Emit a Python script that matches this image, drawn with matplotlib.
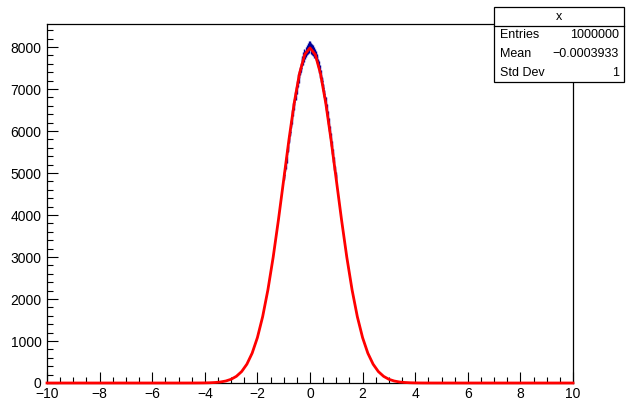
import numpy as np
import matplotlib
matplotlib.use("Agg")
import matplotlib.pyplot as plt
from matplotlib.ticker import MultipleLocator

# ---- data ----
hist_xmin, hist_xmax, n_bins = -10.0, 10.0, 1000
first_bin = 450          # index of first listed bin (x = -1.0)
bin_counts = [
    4912, 4951, 5120, 5163, 5301, 5322, 5498, 5571, 5610, 5789,
    5826, 5965, 5981, 6150, 6188, 6247, 6412, 6438, 6597, 6581,
    6690, 6835, 6811, 6972, 6958, 7103, 7121, 7265, 7230, 7351,
    7446, 7412, 7538, 7497, 7641, 7702, 7668, 7781, 7735, 7863,
    7810, 7902, 7851, 7968, 7905, 8012, 7921, 8051, 7943, 8038,
    8046, 7931, 8009, 7988, 7896, 7962, 7874, 7915, 7832, 7871,
    7777, 7808, 7702, 7739, 7611, 7632, 7590, 7461, 7484, 7352,
    7371, 7249, 7188, 7192, 7043, 7031, 6899, 6887, 6751, 6739,
    6593, 6571, 6428, 6402, 6255, 6236, 6089, 6047, 5901, 5866,
    5715, 5683, 5532, 5491, 5341, 5302, 5149, 5107, 4960, 4915,
]
fit_constant, fit_mean, fit_sigma = 7979.0, -0.0003933, 1.0
fit_npx = 100
stats_title = "x"
stats_rows = [("Entries", "1000000"), ("Mean", "\u22120.0003933"), ("Std Dev", "1")]

plt.rcParams['font.family'] = ['Liberation Sans', 'DejaVu Sans']

fig = plt.figure(figsize=(6.3, 4.04), dpi=100)
ax = fig.add_axes([47/630, 21/404, (573-47)/630, (383-24)/404])

bw = (hist_xmax - hist_xmin) / n_bins
counts = np.array(bin_counts, dtype=float)
idx = np.arange(first_bin, first_bin + len(counts))
centers = hist_xmin + (idx + 0.5) * bw
err = np.sqrt(counts)

hist_col = '#000099'
ax.vlines(centers, counts - err, counts + err, color=hist_col, lw=1.0, zorder=2)
ax.hlines(counts, centers - bw/2, centers + bw/2, color=hist_col, lw=1.0, zorder=2)

fx = np.linspace(hist_xmin, hist_xmax, fit_npx + 1)
fy = fit_constant * np.exp(-0.5 * ((fx - fit_mean) / fit_sigma) ** 2)
ax.plot(fx, fy, color='#ff0000', lw=2.0, zorder=3, clip_on=False)

ymax = 1.05 * np.max(counts + err)
ax.set_xlim(hist_xmin, hist_xmax)
ax.set_ylim(0, ymax)

ax.xaxis.set_major_locator(MultipleLocator(2))
ax.xaxis.set_minor_locator(MultipleLocator(0.5))
ax.yaxis.set_major_locator(MultipleLocator(1000))
ax.yaxis.set_minor_locator(MultipleLocator(200))
ax.tick_params(which='both', direction='in', top=False, right=False, labelsize=10, width=0.8)
ax.tick_params(which='major', length=8)
ax.tick_params(which='minor', length=4.3)
ax.tick_params(axis='x', pad=3)
ax.tick_params(axis='y', pad=4)
for s in ax.spines.values():
    s.set_linewidth(0.9)

# stats box (figure pixel coords)
W, H = 630, 404
bx0, bx1, by0, by1, bsep = 494, 624, 7, 82, 26
fig.patches.append(plt.Rectangle((bx0/W, 1 - by1/H), (bx1-bx0)/W, (by1-by0)/H,
                                 transform=fig.transFigure, facecolor='white',
                                 edgecolor='black', lw=0.9, zorder=10))
fig.add_artist(plt.Line2D([bx0/W, bx1/W], [1 - bsep/H, 1 - bsep/H],
                          transform=fig.transFigure, color='black', lw=0.9, zorder=11))
fig.text((bx0+bx1)/2/W, 1 - 16.5/H, stats_title, ha='center', va='center', fontsize=9, zorder=12)
row_y = [35.5, 54, 72.5]
for (lab, val), yy in zip(stats_rows, row_y):
    fig.text((bx0+6)/W, 1 - yy/H, lab, ha='left', va='center', fontsize=9, zorder=12)
    fig.text((bx1-5)/W, 1 - yy/H, val, ha='right', va='center', fontsize=9, zorder=12)

fig.savefig('out.png', dpi=100)
